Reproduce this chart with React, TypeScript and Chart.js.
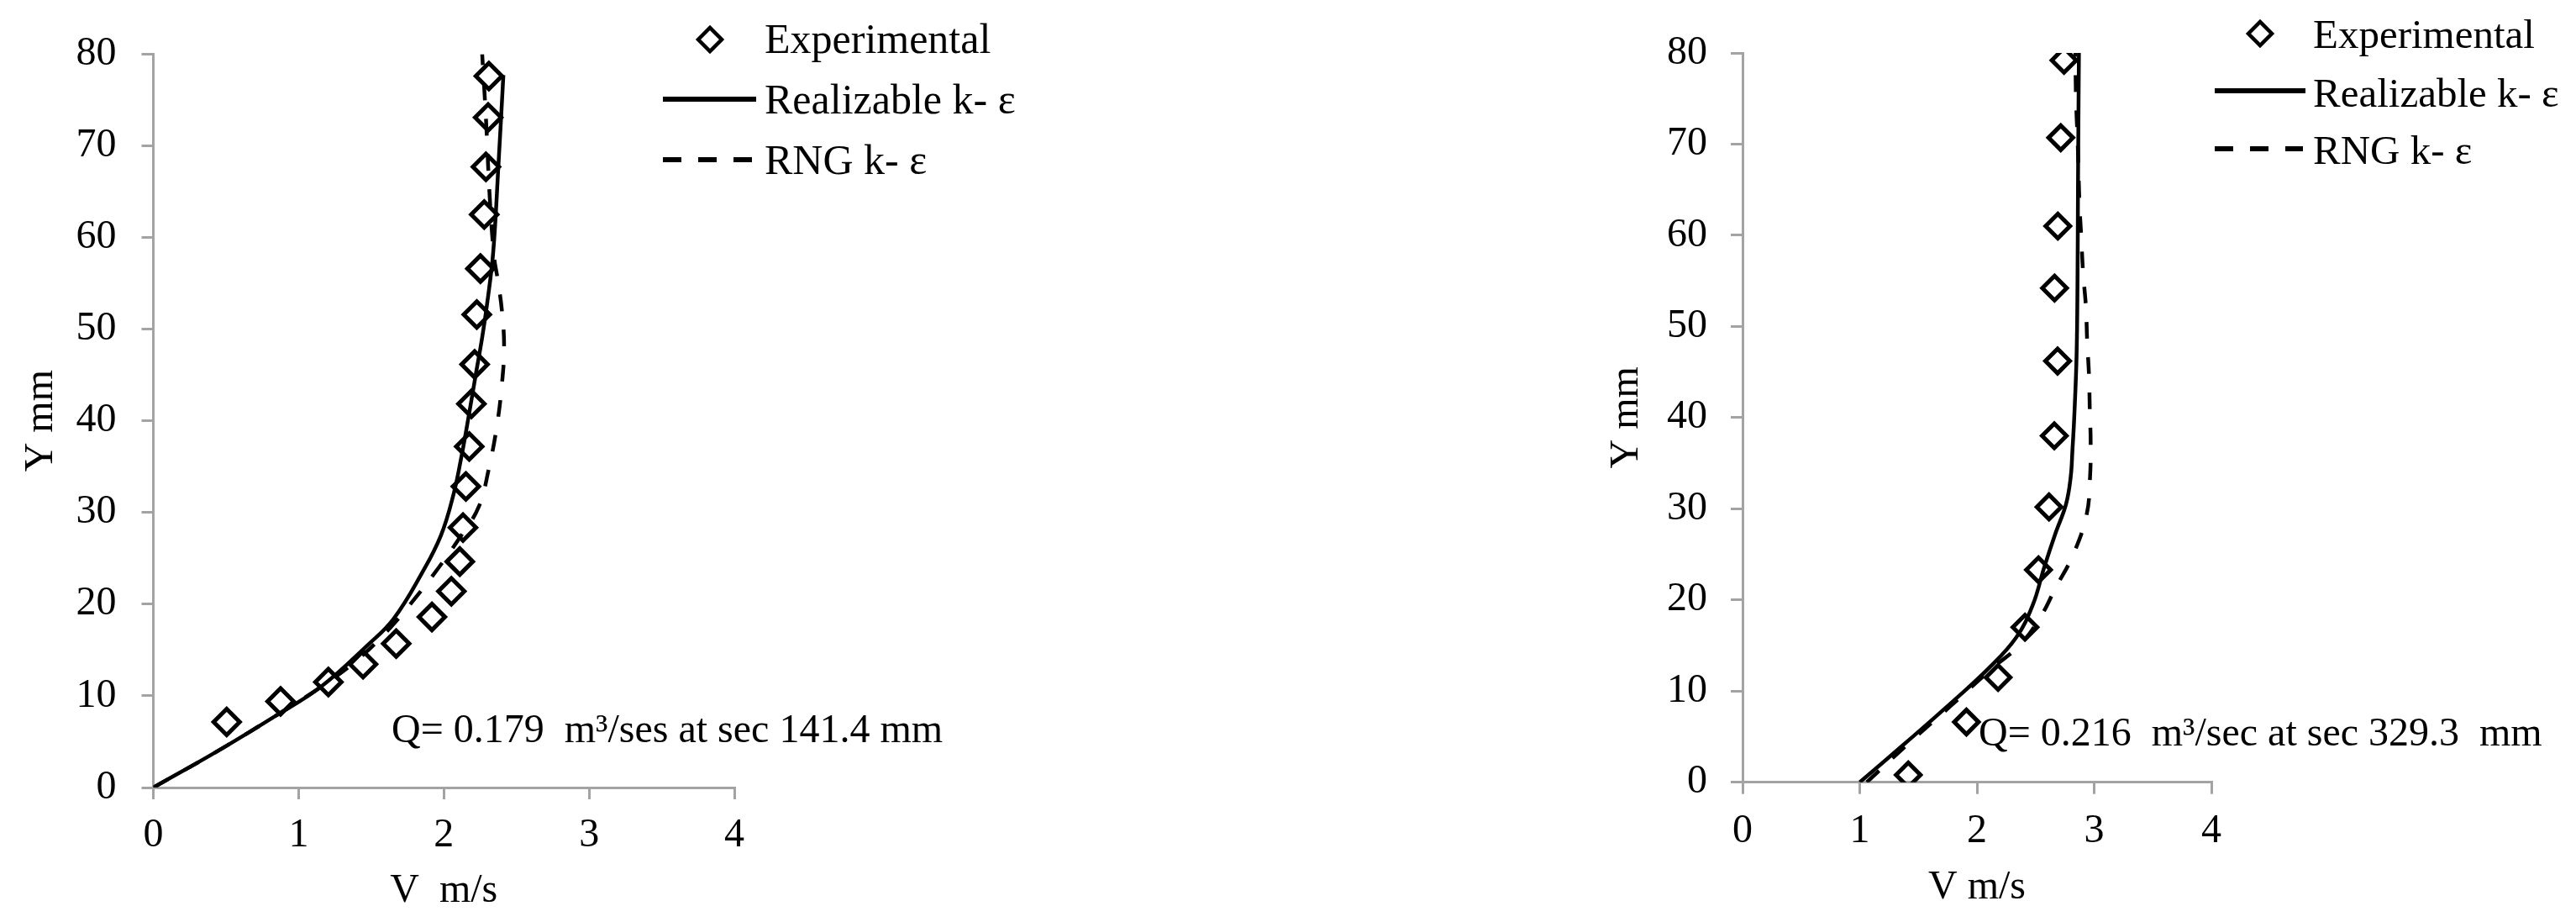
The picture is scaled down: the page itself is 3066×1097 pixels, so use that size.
import { useEffect, useRef } from 'react';
import { Chart, registerables } from 'chart.js';

Chart.register(...registerables);

const SERIF = "'Liberation Serif', 'Times New Roman', Times, serif";
const AXIS = '#a3a3a3';
const INK = '#000000';

// ---------- Left panel: Q = 0.179 m3/s, section 141.4 mm ----------
const leftExpV = [0.505, 0.876, 1.205, 1.444, 1.672, 1.918, 2.052, 2.11, 2.132, 2.152, 2.175, 2.19, 2.212, 2.227, 2.252, 2.278, 2.29, 2.305, 2.31];
const leftExpY = [7.15, 9.4, 11.5, 13.45, 15.7, 18.6, 21.4, 24.65, 28.35, 32.85, 37.2, 41.85, 46.15, 51.6, 56.6, 62.5, 67.7, 73.1, 77.6];

const leftRealV = [0, 0.445, 0.85, 1.155, 1.48, 1.654, 1.846, 1.98, 2.067, 2.12, 2.17, 2.215, 2.265, 2.3, 2.34, 2.375, 2.41];
const leftRealY = [0, 4, 7.9, 11, 15.6, 18.4, 23.3, 27.5, 32, 36, 40.4, 44.6, 49.2, 53, 58.4, 67.6, 77.7];

const leftRngV = [0, 0.445, 0.85, 1.155, 1.41, 1.635, 1.81, 1.965, 2.12, 2.24, 2.31, 2.365, 2.4, 2.415, 2.4, 2.37, 2.345, 2.315, 2.29, 2.264];
const leftRngY = [0, 4, 7.9, 11, 14, 17.5, 20.8, 24, 27.5, 30.6, 34.8, 39.4, 44, 48, 52, 55.5, 58, 64.7, 73, 80];

// ---------- Right panel: Q = 0.216 m3/s, section 329.3 mm ----------
const rightExpV = [1.414, 1.91, 2.18, 2.41, 2.525, 2.615, 2.66, 2.688, 2.662, 2.69, 2.715, 2.743];
const rightExpY = [0.8, 6.6, 11.5, 17.0, 23.3, 30.2, 38.0, 46.2, 54.2, 61.0, 70.7, 79.2];

const rightRealV = [1.0, 1.39, 1.745, 2.1, 2.336, 2.478, 2.572, 2.667, 2.76, 2.8, 2.815, 2.83, 2.85, 2.858, 2.862, 2.866, 2.87];
const rightRealY = [0, 4.3, 8.3, 12.5, 15.9, 19.5, 23.5, 27.2, 30.5, 33.5, 36.5, 40, 46.8, 55, 65, 73, 80];

const rightRngV = [1.06, 1.42, 1.77, 2.13, 2.37, 2.55, 2.67, 2.815, 2.935, 2.965, 2.97, 2.963, 2.956, 2.94, 2.93, 2.905, 2.89, 2.875, 2.86, 2.845, 2.84];
const rightRngY = [0, 4.3, 8.3, 12.5, 15.1, 18.3, 21.3, 24.8, 29.3, 33.5, 37.5, 40.6, 44.6, 48.5, 52.1, 56, 59.8, 63.4, 70, 75, 80];

// ---------- Text ----------
const seriesLabels = ['Experimental', 'Realizable k- ε', 'RNG k- ε'];
const leftNote = 'Q= 0.179  m³/ses at sec 141.4 mm';
const rightNote = 'Q= 0.216  m³/sec at sec 329.3  mm';
const leftXTitle = 'V  m/s';
const rightXTitle = 'V m/s';
const yTitle = 'Y mm';
const xMin = 0;
const xMax = 4;
const xStep = 1;
const yMin = 0;
const yMax = 80;
const yStep = 10;

const pts = (v: number[], y: number[]) => v.map((x, i) => ({ x, y: y[i] }));

type Panel = {
  expV: number[]; expY: number[]; realV: number[]; realY: number[]; rngV: number[]; rngY: number[];
  xTitle: string; note: string;
  padLeft: number; padTop: number; padRight: number;
  yScaleWidth: number; xScaleHeight: number;
  yTickPad: number; yTitlePad: number; xTickPad: number; xTitlePad: number;
  markerRadius: number;
  legend: { dx: number; dy: number; r: number; tx: number; base: number[]; x0: number; x1: number; solidY: number; dashX1: number; dashY: number; size: number };
  noteAt: { x: number; y: number; size: number };
};

const leftPanel: Panel = {
  expV: leftExpV, expY: leftExpY, realV: leftRealV, realY: leftRealY, rngV: leftRngV, rngY: leftRngY,
  xTitle: leftXTitle, note: leftNote,
  padLeft: 0, padTop: 64.4, padRight: 626,
  yScaleWidth: 182.5, xScaleHeight: 160,
  yTickPad: 30, yTitlePad: 21, xTickPad: 15, xTitlePad: 8,
  markerRadius: 15.5,
  legend: { dx: 845, dy: 47, r: 14, tx: 910, base: [63, 135, 207], x0: 789, x1: 900, solidY: 118, dashX1: 897, dashY: 190, size: 50 },
  noteAt: { x: 466, y: 883, size: 48 },
};

const rightPanel: Panel = {
  expV: rightExpV, expY: rightExpY, realV: rightRealV, realY: rightRealY, rngV: rightRngV, rngY: rightRngY,
  xTitle: rightXTitle, note: rightNote,
  padLeft: 390, padTop: 63, padRight: 434,
  yScaleWidth: 184, xScaleHeight: 166.3,
  yTickPad: 28, yTitlePad: 18, xTickPad: 15.5, xTitlePad: 12,
  markerRadius: 14.5,
  legend: { dx: 1190, dy: 40, r: 14, tx: 1253, base: [57, 127, 195], x0: 1136, x1: 1244, solidY: 108, dashX1: 1241, dashY: 177, size: 49 },
  noteAt: { x: 855, y: 887, size: 48 },
};

const overlayPlugin = {
  id: 'overlay',
  afterDraw(chart: any, _args: any, opts: any) {
    const ctx: CanvasRenderingContext2D = chart.ctx;
    const lg = opts.legend;
    const labels = chart.data.datasets.map((d: any) => d.label);
    ctx.save();
    ctx.strokeStyle = INK;
    ctx.fillStyle = INK;
    // diamond sample
    ctx.lineWidth = 4.5;
    ctx.setLineDash([]);
    ctx.beginPath();
    ctx.moveTo(lg.dx - lg.r, lg.dy);
    ctx.lineTo(lg.dx, lg.dy - lg.r);
    ctx.lineTo(lg.dx + lg.r, lg.dy);
    ctx.lineTo(lg.dx, lg.dy + lg.r);
    ctx.closePath();
    ctx.stroke();
    // solid sample
    ctx.lineWidth = 6;
    ctx.beginPath();
    ctx.moveTo(lg.x0, lg.solidY);
    ctx.lineTo(lg.x1, lg.solidY);
    ctx.stroke();
    // dashed sample
    ctx.setLineDash([22, 20]);
    ctx.beginPath();
    ctx.moveTo(lg.x0, lg.dashY);
    ctx.lineTo(lg.dashX1, lg.dashY);
    ctx.stroke();
    ctx.setLineDash([]);
    // legend labels
    ctx.textAlign = 'left';
    ctx.textBaseline = 'alphabetic';
    ctx.font = `${lg.size}px ${SERIF}`;
    labels.forEach((t: string, i: number) => ctx.fillText(t, lg.tx, lg.base[i]));
    // note
    const n = opts.noteAt;
    ctx.font = `${n.size}px ${SERIF}`;
    ctx.fillText(opts.note, n.x, n.y);
    ctx.restore();
  },
};

function buildChart(canvas: HTMLCanvasElement, p: Panel) {
  const tickFont = { family: SERIF, size: 48 };
  const grid = {
    display: true,
    drawOnChartArea: false,
    drawTicks: true,
    tickLength: 14,
    tickWidth: 3,
    tickColor: AXIS,
    color: AXIS,
    lineWidth: 3,
  };
  return new Chart(canvas, {
    type: 'scatter',
    data: {
      datasets: [
        {
          label: seriesLabels[0],
          data: pts(p.expV, p.expY),
          pointStyle: 'rectRot',
          pointRadius: p.markerRadius,
          pointHoverRadius: p.markerRadius,
          pointBorderWidth: 5,
          pointBorderColor: INK,
          pointBackgroundColor: 'rgba(0,0,0,0)',
          borderColor: INK,
          backgroundColor: 'rgba(0,0,0,0)',
          showLine: false,
          order: 0,
        },
        {
          label: seriesLabels[1],
          data: pts(p.realV, p.realY),
          showLine: true,
          pointRadius: 0,
          pointHoverRadius: 0,
          borderColor: INK,
          backgroundColor: INK,
          borderWidth: 4.5,
          tension: 0.4,
          fill: false,
          order: 1,
        },
        {
          label: seriesLabels[2],
          data: pts(p.rngV, p.rngY),
          showLine: true,
          pointRadius: 0,
          pointHoverRadius: 0,
          borderColor: INK,
          backgroundColor: INK,
          borderWidth: 4.5,
          borderDash: [20, 22],
          tension: 0.4,
          fill: false,
          order: 2,
        },
      ],
    } as any,
    options: {
      responsive: false,
      animation: false,
      devicePixelRatio: 1,
      layout: { padding: { left: p.padLeft, top: p.padTop, right: p.padRight, bottom: 0 } },
      plugins: {
        legend: { display: false },
        tooltip: { enabled: false },
        overlay: { legend: p.legend, note: p.note, noteAt: p.noteAt },
      } as any,
      scales: {
        x: {
          type: 'linear',
          position: 'bottom',
          min: xMin,
          max: xMax,
          ticks: { stepSize: xStep, padding: p.xTickPad, font: tickFont, color: INK, maxRotation: 0, autoSkip: false },
          grid,
          border: { display: true, color: AXIS, width: 3 },
          title: { display: true, text: p.xTitle, font: tickFont, color: INK, padding: { top: 0, bottom: p.xTitlePad } },
          afterFit: (s: any) => { s.height = p.xScaleHeight; },
        },
        y: {
          type: 'linear',
          position: 'left',
          min: yMin,
          max: yMax,
          ticks: { stepSize: yStep, padding: p.yTickPad, font: tickFont, color: INK, autoSkip: false },
          grid,
          border: { display: true, color: AXIS, width: 3 },
          title: { display: true, text: yTitle, font: tickFont, color: INK, padding: { top: p.yTitlePad, bottom: 0 } },
          afterFit: (s: any) => { s.width = p.yScaleWidth; },
        },
      },
    } as any,
    plugins: [overlayPlugin as any],
  });
}

export default function App() {
  const leftRef = useRef<HTMLCanvasElement>(null);
  const rightRef = useRef<HTMLCanvasElement>(null);

  useEffect(() => {
    const a = buildChart(leftRef.current as HTMLCanvasElement, leftPanel);
    const b = buildChart(rightRef.current as HTMLCanvasElement, rightPanel);
    return () => {
      a.destroy();
      b.destroy();
    };
  }, []);

  return (
    <div style={{ position: 'absolute', left: 0, top: 0, width: 3066, height: 1097, background: '#ffffff', overflow: 'hidden' }}>
      <canvas ref={leftRef} width={1500} height={1097} style={{ position: 'absolute', left: 0, top: 0, width: 1500, height: 1097 }} />
      <canvas ref={rightRef} width={1566} height={1097} style={{ position: 'absolute', left: 1500, top: 0, width: 1566, height: 1097 }} />
    </div>
  );
}
